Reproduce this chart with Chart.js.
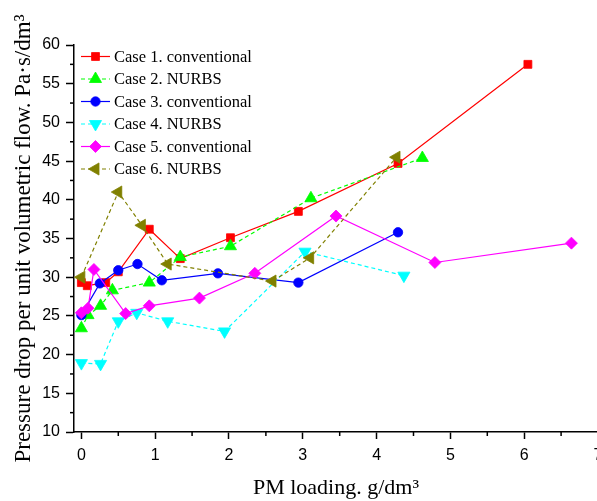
<!DOCTYPE html>
<html><head><meta charset="utf-8">
<script src="https://cdn.jsdelivr.net/npm/chart.js@4/dist/chart.umd.min.js"></script>
<style>html,body{margin:0;padding:0;overflow:hidden;background:#fff;width:597px;height:501px}canvas{display:block}</style>
</head><body>
<canvas id="c" width="640" height="501"></canvas>
<script>
const xTicks=[0,1,2,3,4,5,6,7];
const yTicks=[10,15,20,25,30,35,40,45,50,55,60];
const xMinor=[0.5,1.5,2.5,3.5,4.5,5.5,6.5];
const yMinor=[12.5,17.5,22.5,27.5,32.5,37.5,42.5,47.5,52.5,57.5];
const seriesNames=['Case 1. conventional','Case 2. NURBS','Case 3. conventional','Case 4. NURBS','Case 5. conventional','Case 6. NURBS'];
const case1X=[0.00,0.08,0.33,0.50,0.92,1.34,2.02,2.94,4.29,6.05];
const case1Y=[29.3,28.9,29.3,30.7,36.2,32.4,35.1,38.5,44.7,57.5];
const case2X=[0.00,0.09,0.26,0.42,0.92,1.34,2.02,3.11,4.62];
const case2Y=[23.4,25.1,26.3,28.3,29.3,32.6,34.0,40.2,45.4];
const case3X=[0.00,0.25,0.50,0.76,1.09,1.85,2.94,4.29];
const case3Y=[25.1,29.2,30.9,31.7,29.6,30.5,29.3,35.8];
const case4X=[0.00,0.26,0.50,0.75,1.17,1.94,3.03,4.37];
const case4Y=[18.9,18.8,24.3,25.4,24.3,23.0,33.3,30.2];
const case5X=[0.00,0.09,0.17,0.60,0.92,1.60,2.35,3.45,4.79,6.64];
const case5Y=[25.4,26.0,31.0,25.3,26.3,27.3,30.5,37.9,31.9,34.4];
const case6X=[0.00,0.50,0.82,1.17,2.59,3.10,4.27];
const case6Y=[30.0,41.0,36.7,31.7,29.5,32.5,45.5];

const xs=[case1X,case2X,case3X,case4X,case5X,case6X];
const ys=[case1Y,case2Y,case3Y,case4Y,case5Y,case6Y];
const styles=[
  {color:'#ff0000',dash:[],pointStyle:'rect',rotation:0,radius:5.6},
  {color:'#00ff00',dash:[4,3],pointStyle:'triangle',rotation:0,radius:7},
  {color:'#0000ff',dash:[],pointStyle:'circle',rotation:0,radius:4.7},
  {color:'#00ffff',dash:[4,3],pointStyle:'triangle',rotation:180,radius:7},
  {color:'#ff00ff',dash:[],pointStyle:'rectRot',rotation:0,radius:6},
  {color:'#808000',dash:[4,3],pointStyle:'triangle',rotation:270,radius:7}
];
const datasets=seriesNames.map((name,i)=>({
  label:name,
  data:xs[i].map((x,j)=>({x:x,y:ys[i][j]})),
  borderColor:styles[i].color,
  backgroundColor:styles[i].color,
  borderWidth:1.2,
  borderDash:styles[i].dash,
  pointStyle:styles[i].pointStyle,
  pointRotation:styles[i].rotation,
  pointRadius:styles[i].radius,
  pointBorderWidth:0.8,
  pointBackgroundColor:styles[i].color,
  pointBorderColor:styles[i].color,
  showLine:true,
  tension:0,
  order:6-i
}));

function marker(ctx,st,x,y){
  ctx.save();
  ctx.fillStyle=st.color;ctx.strokeStyle=st.color;ctx.lineWidth=0.8;ctx.setLineDash([]);
  if(Chart.helpers&&Chart.helpers.drawPoint){
    Chart.helpers.drawPoint(ctx,{pointStyle:st.pointStyle,rotation:st.rotation,radius:st.radius,borderWidth:0.8},x,y);
  }else{ctx.beginPath();ctx.arc(x,y,st.radius,0,Math.PI*2);ctx.fill();}
  ctx.restore();
}

const extras={
  id:'extras',
  afterDraw(chart){
    const ctx=chart.ctx,sx=chart.scales.x,sy=chart.scales.y;
    ctx.save();
    ctx.strokeStyle='#000';ctx.lineWidth=1.5;
    xMinor.forEach(v=>{const p=sx.getPixelForValue(v);ctx.beginPath();ctx.moveTo(p,sy.bottom);ctx.lineTo(p,sy.bottom+4);ctx.stroke();});
    yMinor.forEach(v=>{const p=sy.getPixelForValue(v);ctx.beginPath();ctx.moveTo(sx.left,p);ctx.lineTo(sx.left-4,p);ctx.stroke();});
    ctx.font='16.5px "Liberation Serif"';
    ctx.textBaseline='middle';ctx.textAlign='left';ctx.fillStyle='#000';
    seriesNames.forEach((name,i)=>{
      const y=56.5+22.5*i;
      const st=styles[i];
      ctx.save();
      ctx.strokeStyle=st.color;ctx.lineWidth=1.2;ctx.setLineDash(st.dash);
      ctx.beginPath();ctx.moveTo(81,y);ctx.lineTo(110,y);ctx.stroke();
      ctx.restore();
      marker(ctx,st,95.5,y);
      ctx.fillStyle='#000';
      ctx.fillText(name,114,y+1);
    });
    ctx.restore();
  }
};

new Chart(document.getElementById('c'),{
  type:'scatter',
  data:{datasets:datasets},
  plugins:[extras],
  options:{
    responsive:false,animation:false,devicePixelRatio:1,
    layout:{padding:{top:45,right:42,left:0,bottom:0}},
    plugins:{legend:{display:false},tooltip:{enabled:false}},
    scales:{
      x:{type:'linear',min:-0.1,max:7,
        afterBuildTicks:s=>{s.ticks=xTicks.map(v=>({value:v}));},
        afterFit:s=>{s.height=69;s.paddingLeft=0;s.paddingRight=0;},
        border:{display:true,color:'#000',width:1.5},
        grid:{display:true,drawOnChartArea:false,drawTicks:true,tickLength:7,tickColor:'#000',tickWidth:1.5},
        ticks:{color:'#000',font:{family:'Liberation Sans',size:16},padding:7,maxRotation:0,autoSkip:false},
        title:{display:true,text:'PM loading. g/dm³',color:'#000',font:{family:'Liberation Serif',size:22},padding:{top:0,bottom:0}}
      },
      y:{type:'linear',min:10,max:60,
        afterBuildTicks:s=>{s.ticks=yTicks.map(v=>({value:v}));},
        afterFit:s=>{s.width=74;s.paddingTop=0;s.paddingBottom=0;},
        border:{display:true,color:'#000',width:1.5},
        grid:{display:true,drawOnChartArea:false,drawTicks:true,tickLength:8,tickColor:'#000',tickWidth:1.5},
        ticks:{color:'#000',font:{family:'Liberation Sans',size:16},padding:6,autoSkip:false},
        title:{display:true,text:'Pressure drop per unit volumetric flow. Pa·s/dm³',color:'#000',font:{family:'Liberation Serif',size:23},padding:{top:10,bottom:0}}
      }
    }
  }
});
</script>
</body></html>
